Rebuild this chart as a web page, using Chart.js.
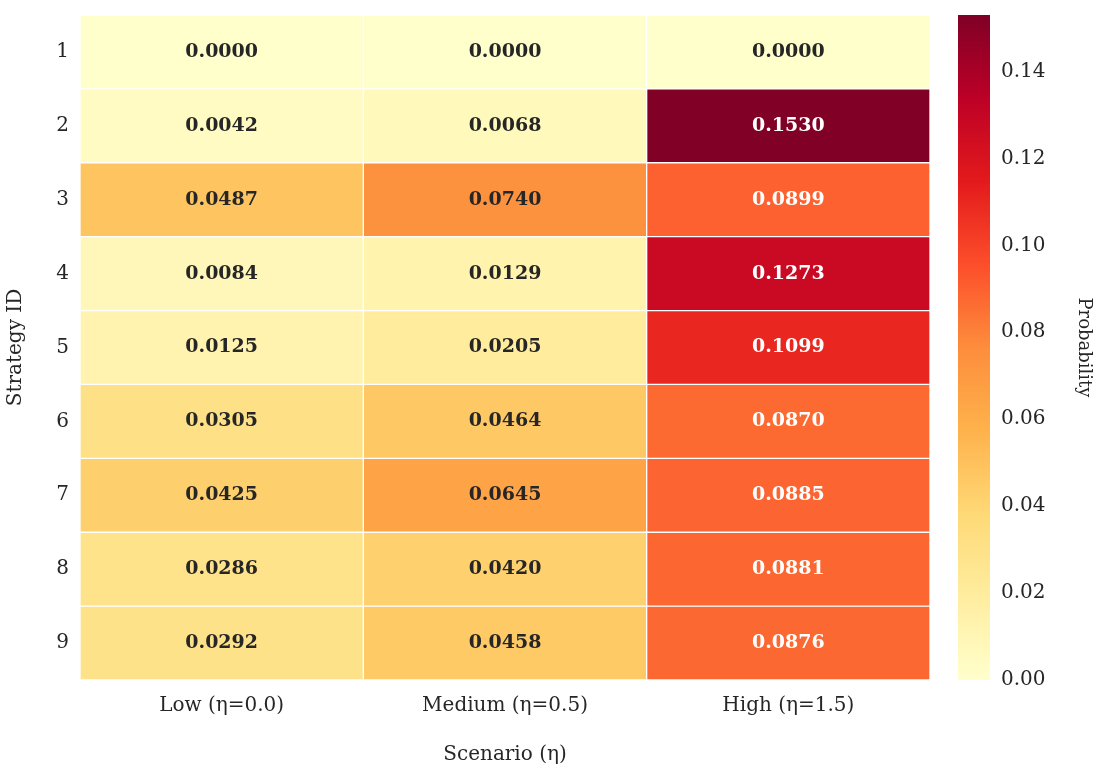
<!DOCTYPE html>
<html>
<head>
<meta charset="utf-8">
<script src="https://cdn.jsdelivr.net/npm/chart.js@4.4.0/dist/chart.umd.min.js"></script>
<style>
  body { margin: 0; background: #fff; }
  #heat { position: absolute; left: 0; top: 0; width: 940px; height: 771px; }
  #bar { position: absolute; left: 940px; top: 0; width: 158px; height: 771px; }
</style>
</head>
<body>
<div id="heat"><canvas id="heatCanvas"></canvas></div>
<div id="bar"><canvas id="barCanvas"></canvas></div>
<script>
const scenarios = ['Low (η=0.0)', 'Medium (η=0.5)', 'High (η=1.5)'];
const strategies = ['1', '2', '3', '4', '5', '6', '7', '8', '9'];
const lowValues = [0.0000, 0.0042, 0.0487, 0.0084, 0.0125, 0.0305, 0.0425, 0.0286, 0.0292];
const mediumValues = [0.0000, 0.0068, 0.0740, 0.0129, 0.0205, 0.0464, 0.0645, 0.0420, 0.0458];
const highValues = [0.0000, 0.1530, 0.0899, 0.1273, 0.1099, 0.0870, 0.0885, 0.0881, 0.0876];
const colorTicks = [0, 0.02, 0.04, 0.06, 0.08, 0.10, 0.12, 0.14];
const vmax = 0.1530;

const font = 'DejaVu Serif';
const ylorrd = ['#ffffcc', '#ffeda0', '#fed976', '#feb24c', '#fd8d3c', '#fc4e2a', '#e31a1c', '#bd0026', '#800026'];

function hexRgb(h) {
  return [1, 3, 5].map(i => parseInt(h.substr(i, 2), 16));
}
function cmap(v) {
  let t = Math.max(0, Math.min(1, v / vmax)) * (ylorrd.length - 1);
  let i = Math.min(Math.floor(t), ylorrd.length - 2);
  let f = t - i;
  let a = hexRgb(ylorrd[i]), b = hexRgb(ylorrd[i + 1]);
  let c = a.map((x, k) => Math.round(x + (b[k] - x) * f));
  return `rgb(${c[0]},${c[1]},${c[2]})`;
}

const columns = [lowValues, mediumValues, highValues];
const datasets = strategies.map((s, r) => ({
  label: s,
  data: columns.map(col => [r, r + 1]),
  values: columns.map(col => col[r]),
  backgroundColor: columns.map(col => cmap(col[r])),
  borderColor: '#ffffff',
  borderWidth: 1,
  borderSkipped: false,
  barPercentage: 1,
  categoryPercentage: 1
}));

const cellText = {
  id: 'cellText',
  afterDatasetsDraw(chart) {
    const ctx = chart.ctx;
    ctx.save();
    ctx.font = `bold 19px "${font}"`;
    ctx.textAlign = 'center';
    ctx.textBaseline = 'middle';
    chart.data.datasets.forEach((ds, di) => {
      chart.getDatasetMeta(di).data.forEach((bar, i) => {
        const v = ds.values[i];
        const p = bar.getProps(['x', 'y', 'base'], true);
        ctx.fillStyle = v > 0.08 ? '#ffffff' : '#262626';
        ctx.fillText(v.toFixed(4), p.x, (p.y + p.base) / 2);
      });
    });
    ctx.restore();
  }
};

new Chart(document.getElementById('heatCanvas'), {
  type: 'bar',
  data: { labels: scenarios, datasets },
  options: {
    responsive: true,
    maintainAspectRatio: false,
    animation: false,
    layout: { padding: { top: 8, right: 10 } },
    plugins: { legend: { display: false }, tooltip: { enabled: false } },
    scales: {
      x: {
        stacked: true,
        grid: { display: false, drawTicks: true },
        border: { display: false },
        ticks: { color: '#262626', font: { family: font, size: 20 }, padding: 6 },
        title: { display: true, text: 'Scenario (η)', color: '#262626', font: { family: font, size: 20 }, padding: { top: 12 } },
        afterFit(scale) { scale.height = 91; }
      },
      y: {
        type: 'linear',
        min: 0,
        max: 9,
        reverse: true,
        grid: { display: false },
        border: { display: false },
        afterBuildTicks(scale) {
          scale.ticks = strategies.map((s, i) => ({ value: i + 0.5 }));
        },
        ticks: {
          color: '#262626',
          font: { family: font, size: 20 },
          callback: (v) => strategies[Math.floor(v)]
        },
        title: { display: true, text: 'Strategy ID', color: '#262626', font: { family: font, size: 20 } },
        afterFit(scale) { scale.width = 80; }
      }
    }
  },
  plugins: [cellText]
});

new Chart(document.getElementById('barCanvas'), {
  type: 'bar',
  data: {
    labels: [''],
    datasets: [{
      data: [[0, vmax]],
      backgroundColor(context) {
        const area = context.chart.chartArea;
        if (!area) return '#fff';
        const g = context.chart.ctx.createLinearGradient(0, area.bottom, 0, area.top);
        ylorrd.forEach((c, i) => g.addColorStop(i / (ylorrd.length - 1), c));
        return g;
      },
      borderWidth: 0,
      barPercentage: 1,
      categoryPercentage: 1
    }]
  },
  options: {
    responsive: true,
    maintainAspectRatio: false,
    animation: false,
    layout: { padding: { top: 8, left: 18, bottom: 91 } },
    plugins: { legend: { display: false }, tooltip: { enabled: false } },
    scales: {
      x: { display: false },
      y: {
        position: 'right',
        min: 0,
        max: vmax,
        grid: { display: false, drawTicks: true, tickLength: 8, tickColor: '#262626' },
        border: { display: false },
        afterBuildTicks(scale) {
          scale.ticks = colorTicks.map(v => ({ value: v }));
        },
        ticks: {
          color: '#262626',
          font: { family: font, size: 20 },
          callback: (v) => v.toFixed(2)
        },
        title: { display: true, text: 'Probability', color: '#262626', font: { family: font, size: 18 } },
        afterFit(scale) { scale.width = 108; }
      }
    }
  }
});
</script>
</body>
</html>
